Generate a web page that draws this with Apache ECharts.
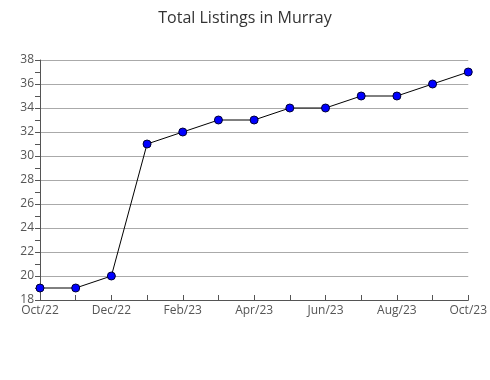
<!DOCTYPE html>
<html><head><meta charset="utf-8">
<script src="https://cdn.jsdelivr.net/npm/echarts@6/dist/echarts.min.js"></script>
<style>html,body{margin:0;padding:0;background:#fff}#c{width:490px;height:380px}</style>
</head><body><div id="c"></div>
<script>
const categories = ["Oct/22","Nov/22","Dec/22","Jan/23","Feb/23","Mar/23","Apr/23","May/23","Jun/23","Jul/23","Aug/23","Sep/23","Oct/23"];
const listings = [19,19,20,31,32,33,33,34,34,35,35,36,37];
const titleText = "Total Listings in Murray";
const chart = echarts.init(document.getElementById('c'));
chart.setOption({
  animation:false,
  title:{text:titleText,left:'center',top:5,textStyle:{fontFamily:'Open Sans',fontWeight:'normal',fontSize:16,color:'#333'}},
  grid:{left:40,right:20,top:60,bottom:80,containLabel:false},
  xAxis:{type:'category',data:categories,boundaryGap:false,
    axisLine:{lineStyle:{color:'#555',width:1}},
    axisTick:{show:true,inside:true,length:5,interval:0,lineStyle:{color:'#555'}},
    axisLabel:{interval:1,color:'#555',fontFamily:'Open Sans',fontSize:12,margin:5},
    splitLine:{show:false}},
  yAxis:{type:'value',min:18,max:38,interval:2,
    axisLine:{show:true,lineStyle:{color:'#555'}},
    axisTick:{show:true,length:5,lineStyle:{color:'#555'}},
    minorTick:{show:true,splitNumber:2,length:5,lineStyle:{color:'#555'}},
    axisLabel:{color:'#555',fontFamily:'Open Sans',fontSize:12,margin:6},
    splitLine:{show:true,lineStyle:{color:'#aaa',width:1}}},
  series:[{type:'line',data:listings,symbol:'circle',symbolSize:8,
    lineStyle:{color:'#000',width:1},
    itemStyle:{color:'#0000ff',borderColor:'#000033',borderWidth:1}}]
});
</script></body></html>
